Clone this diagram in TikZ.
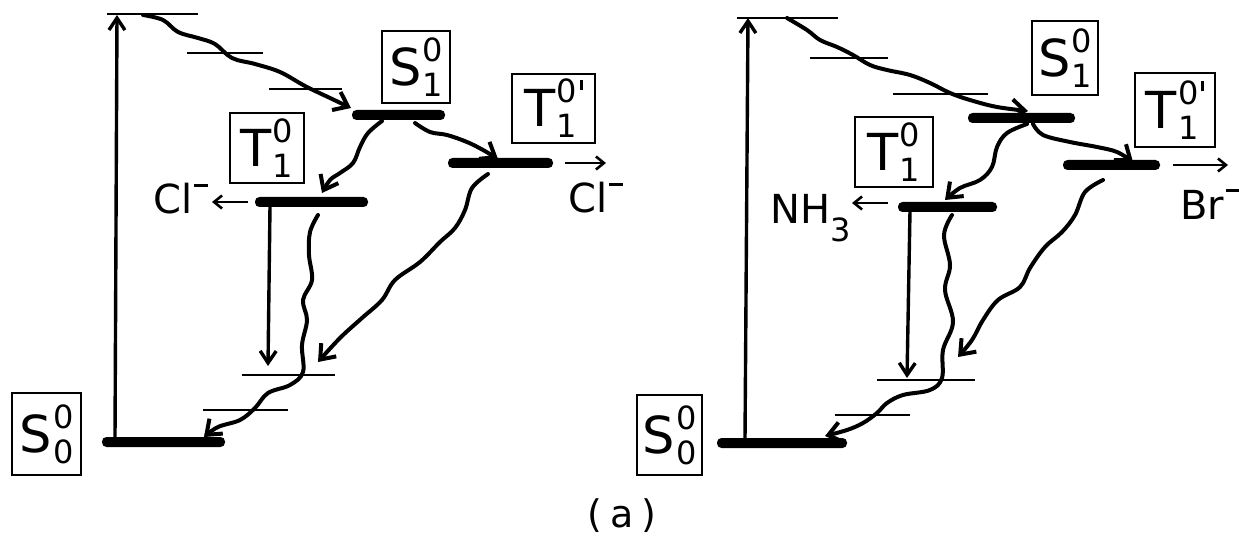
\documentclass[tikz,border=0pt]{standalone}
\usepackage{fontspec}
\setmainfont{DejaVu Sans}
\usetikzlibrary{arrows.meta}
\newcommand{\lvlbl}[3]{\fontsize{51}{51}\selectfont#1\kern1pt\fontsize{32}{32}\selectfont\rlap{\raisebox{24pt}{#2}}\rlap{\raisebox{-11pt}{#3}}\phantom{#2}}
\newcommand{\sminus}{\kern2pt\raisebox{27pt}{\rule{14pt}{2.6pt}}}
\newcommand{\pr}{\kern3pt\raisebox{13pt}{\rule{2.6pt}{10pt}}}
\begin{document}
\begin{tikzpicture}[x=1pt,y=-1pt,
  lbox/.style={draw, line width=2.6pt, inner sep=0pt},
  bar/.style={fill=black, rounded corners=4.5pt, minimum height=10pt, inner sep=0pt},
  level/.style={line width=2.2pt},
  wavy/.style={line width=4pt, line cap=round, -{Straight Barb[length=13pt,width=20pt]}},
  vert/.style={line width=3.4pt, -{Straight Barb[length=12pt,width=16pt]}},
  sarr/.style={line width=2.6pt, -{Straight Barb[length=8pt,width=13pt]}},
  lab/.style={font=\fontsize{40}{40}\selectfont, inner sep=0pt, anchor=base west}]
\useasboundingbox (0,0) rectangle (1239,540);

% ---------------- left diagram ----------------
\node[lbox, minimum width=69pt, minimum height=82pt] (lS0box) at (46.5,434) {\lvlbl{S}{0}{0}};
\node[lbox, minimum width=68pt, minimum height=72pt] (lS1box) at (416,67) {\lvlbl{S}{0}{1}};
\node[lbox, minimum width=74pt, minimum height=70pt] (lT1box) at (267,148) {\lvlbl{T}{0}{1}};
\node[lbox, minimum width=83pt, minimum height=69pt] (lT1pbox) at (553.5,108.5) {\lvlbl{T}{0\pr}{1}};

\node[bar, minimum width=123pt] (lS0) at (163.5,442) {};
\node[bar, minimum width=93pt] (lS1) at (398.5,115) {};
\node[bar, minimum width=113pt] (lT1) at (311.5,202) {};
\node[bar, minimum width=105pt] (lT1p) at (500.5,163) {};

\draw[level] (107,14) -- (198,14);
\draw[level] (187,53) -- (263,53);
\draw[level] (269,89) -- (342,89);
\draw[level] (242,375) -- (335,375);
\draw[level] (203,410) -- (288,410);

\coordinate (lupA) at (115,438);
\coordinate (lupB) at (117,15);
\draw[vert] (lupA) -- (lupB);
\coordinate (ldnA) at (270,206);
\coordinate (ldnB) at (268,366);
\draw[vert] (ldnA) -- (ldnB);

\node[lab] (lcl) at (153,214) {Cl\sminus};
\node[lab] (rcl) at (568,213) {Cl\sminus};
\coordinate (lla) at (248,202);
\coordinate (llb) at (212,202);
\draw[sarr] (lla) -- (llb);
\coordinate (lra) at (565,163);
\coordinate (lrb) at (606,163);
\draw[sarr] (lra) -- (lrb);

\coordinate (lw1s) at (143,15);
\coordinate (lw1e) at (351,108);
\draw[wavy] plot[smooth, tension=0.6] coordinates {(lw1s) (163,20) (178,32) (198,38) (215,44) (232,58) (255,64) (280,72) (305,86) (330,98) (lw1e)};
\coordinate (lw2s) at (382,121);
\coordinate (lw2e) at (322,193);
\draw[wavy] plot[smooth, tension=0.6] coordinates {(lw2s) (368,133) (360,147) (353,163) (340,173) (330,180) (lw2e)};
\coordinate (lw3s) at (415,123);
\coordinate (lw3e) at (498,159);
\draw[wavy] plot[smooth, tension=0.6] coordinates {(lw3s) (430,132) (447,135) (467,142) (483,150) (lw3e)};
\coordinate (lw4s) at (488,174);
\coordinate (lw4e) at (318,362);
\draw[wavy] plot[smooth, tension=0.6] coordinates {(lw4s) (472,188) (465,210) (455,228) (440,242) (420,262) (395,280) (382,300) (362,318) (340,338) (lw4e)};
\coordinate (lw5s) at (318,215);
\coordinate (lw5e) at (204,437);
\draw[wavy] plot[smooth, tension=0.6] coordinates {(lw5s) (310,232) (309,255) (312,280) (303,300) (307,320) (302,345) (303,372) (290,385) (268,393) (255,408) (240,420) (218,427) (lw5e)};

% ---------------- right diagram ----------------
\node[lbox, minimum width=65pt, minimum height=80pt] (rS0box) at (669.5,435) {\lvlbl{S}{0}{0}};
\node[lbox, minimum width=66pt, minimum height=74pt] (rS1box) at (1065,58) {\lvlbl{S}{0}{1}};
\node[lbox, minimum width=78pt, minimum height=70pt] (rT1box) at (894,152) {\lvlbl{T}{0}{1}};
\node[lbox, minimum width=80pt, minimum height=74pt] (rT1pbox) at (1175,110) {\lvlbl{T}{0\pr}{1}};

\node[bar, minimum width=130pt] (rS0) at (782,443) {};
\node[bar, minimum width=107pt] (rS1) at (1021.5,118) {};
\node[bar, minimum width=99pt] (rT1) at (947.5,207) {};
\node[bar, minimum width=97pt] (rT1p) at (1111.5,165) {};

\draw[level] (737,18) -- (838,18);
\draw[level] (810,58) -- (888,58);
\draw[level] (893,94) -- (988,94);
\draw[level] (877,380) -- (975,380);
\draw[level] (835,415) -- (910,415);

\coordinate (rupA) at (745,439);
\coordinate (rupB) at (748,18);
\draw[vert] (rupA) -- (rupB);
\coordinate (rdnA) at (910,211);
\coordinate (rdnB) at (907,378);
\draw[vert] (rdnA) -- (rdnB);

\node[lab] (rnh) at (770,223) {NH\raisebox{-18pt}{\fontsize{32}{32}\selectfont 3}};
\node[lab] (rbr) at (1180,219) {Br\sminus};
\coordinate (rla) at (888,203);
\coordinate (rlb) at (852,203);
\draw[sarr] (rla) -- (rlb);
\coordinate (rra) at (1173,165);
\coordinate (rrb) at (1228,165);
\draw[sarr] (rra) -- (rrb);

\coordinate (rw1s) at (787,18);
\coordinate (rw1e) at (1028,111);
\draw[wavy] plot[smooth, tension=0.6] coordinates {(rw1s) (807,30) (820,40) (837,47) (853,55) (870,65) (887,70) (910,75) (930,83) (950,93) (970,100) (997,107) (rw1e)};
\coordinate (rw2s) at (1027,124);
\coordinate (rw2e) at (945,200);
\draw[wavy] plot[smooth, tension=0.6] coordinates {(rw2s) (1007,133) (997,147) (992,167) (980,180) (960,188) (rw2e)};
\coordinate (rw3s) at (1033,124);
\coordinate (rw3e) at (1133,162);
\draw[wavy] plot[smooth, tension=0.6] coordinates {(rw3s) (1043,135) (1070,142) (1097,147) (1117,152) (rw3e)};
\coordinate (rw4s) at (1103,180);
\coordinate (rw4e) at (958,357);
\draw[wavy] plot[smooth, tension=0.6] coordinates {(rw4s) (1085,192) (1075,215) (1062,232) (1045,247) (1030,268) (1020,287) (998,300) (983,320) (972,340) (rw4e)};
\coordinate (rw5s) at (952,215);
\coordinate (rw5e) at (825,436);
\draw[wavy] plot[smooth, tension=0.6] coordinates {(rw5s) (944,235) (950,265) (945,290) (953,322) (943,350) (942,378) (930,390) (903,395) (887,403) (877,413) (863,423) (847,430) (rw5e)};

% caption
\node[font=\fontsize{38}{38}\selectfont, inner sep=0pt] (cap) at (622,516) {(\kern8pt a\kern8pt)};
\end{tikzpicture}
\end{document}
